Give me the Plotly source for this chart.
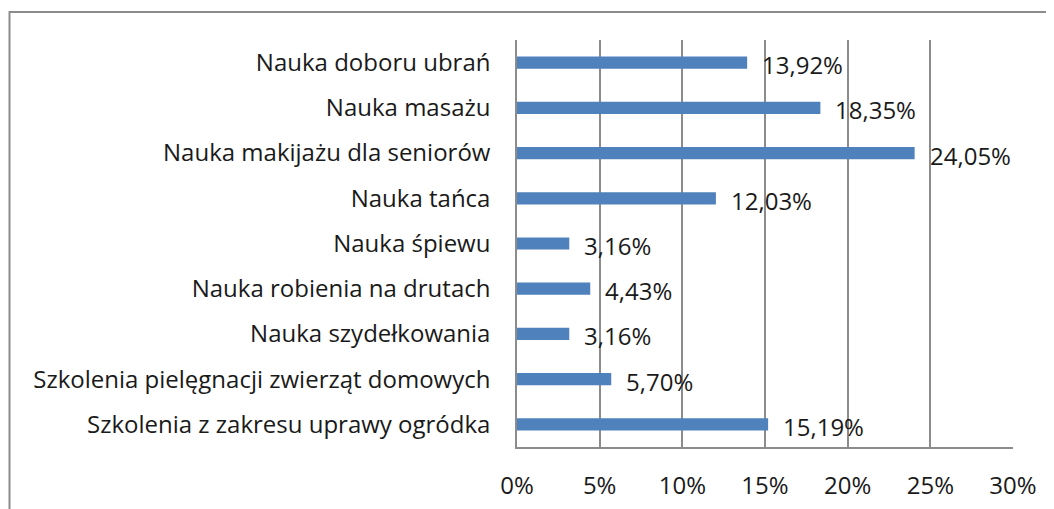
import plotly.graph_objects as go

categories = [
    "Szkolenia z zakresu uprawy ogródka",
    "Szkolenia pielęgnacji zwierząt domowych",
    "Nauka szydełkowania",
    "Nauka robienia na drutach",
    "Nauka śpiewu",
    "Nauka tańca",
    "Nauka makijażu dla seniorów",
    "Nauka masażu",
    "Nauka doboru ubrań",
]
values = [15.19, 5.70, 3.16, 4.43, 3.16, 12.03, 24.05, 18.35, 13.92]
labels = [f"{v:.2f}".replace(".", ",") + "%" for v in values]
tick_vals = [0, 5, 10, 15, 20, 25, 30]
tick_text = ["0%", "5%", "10%", "15%", "20%", "25%", "30%"]

FONT = "Open Sans"
FS = 24

fig = go.Figure()
fig.add_trace(go.Bar(
    x=values, y=categories, orientation="h",
    marker=dict(color="#4F81BD", line=dict(width=0)),
    width=0.27,
    hoverinfo="skip",
))

for c, v, t in zip(categories, values, labels):
    fig.add_annotation(x=v, y=c, text=t, showarrow=False, xanchor="left",
                       xshift=13, yshift=-2,
                       font=dict(family=FONT, size=FS, color="#1a1a1a"))

W, H = 1046, 501
L, T, PW, PH = 509, 32, 496, 407
fig.update_layout(
    width=W, height=H,
    margin=dict(l=L, r=W - L - PW, t=T, b=H - T - PH),
    paper_bgcolor="white", plot_bgcolor="white",
    showlegend=False,
    font=dict(family=FONT, size=FS, color="#1a1a1a"),
    xaxis=dict(range=[0, 30], tickvals=tick_vals, ticktext=tick_text,
               showgrid=True, gridcolor="#8c8c8c", gridwidth=1.5,
               zeroline=False, showline=True, linecolor="#8c8c8c", linewidth=1.5,
               ticks="", ticklabelstandoff=16, automargin=False, fixedrange=True),
    yaxis=dict(categoryorder="array", categoryarray=categories,
               range=[-0.5, 8.5],
               showgrid=False, zeroline=False, showline=True,
               linecolor="#8c8c8c", linewidth=1.5, ticks="",
               ticklabelstandoff=20, automargin=False, fixedrange=True),
    shapes=[dict(type="rect", xref="paper", yref="paper",
                 x0=-(L - 1.5) / PW, x1=(W + 20 - L) / PW,
                 y0=-(H + 20 - T - PH) / PH, y1=(T + PH - 4) / PH,
                 line=dict(color="#8c8c8c", width=2), fillcolor="rgba(0,0,0,0)",
                 layer="below")],
)

fig.write_html("out.html")
